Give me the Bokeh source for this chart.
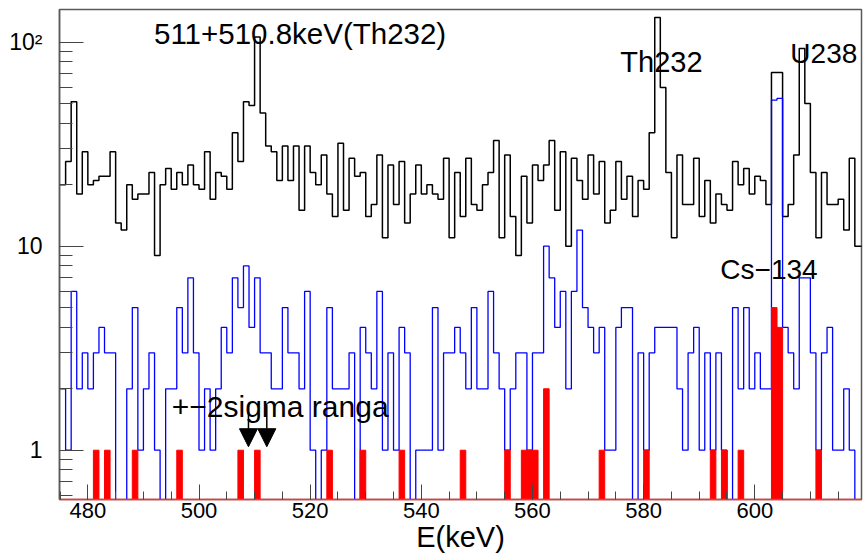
from bokeh.plotting import figure
from bokeh.embed import file_html
from bokeh.resources import INLINE
from bokeh.models import FixedTicker, Label, Arrow, NormalHead, ColumnDataSource
from bokeh.core.properties import value

# ---------------- data ----------------
bin_start = 475.0
bin_width = 1.0

black_counts = [
    20, 26, 51, 18, 29, 20, 21, 22, 22, 29,
    13, 12, 20, 17, 18, 18, 23, 9, 20, 24,
    19, 23, 20, 25, 20, 19, 29, 17, 23, 22,
    19, 36, 26, 51, 49, 106, 45, 31, 29, 21,
    31, 21, 31, 15, 31, 23, 20, 28, 18, 14,
    32, 15, 27, 22, 23, 14, 16, 28, 11, 25,
    16, 26, 13, 18, 25, 18, 20, 18, 17, 27,
    11, 23, 14, 27, 16, 15, 20, 23, 33, 11,
    28, 14, 9, 22, 13, 25, 21, 25, 33, 15,
    29, 10, 27, 21, 17, 28, 18, 26, 13, 15,
    26, 17, 22, 14, 21, 19, 36, 132, 60, 23,
    11, 28, 16, 16, 27, 14, 21, 13, 18, 16,
    15, 26, 20, 24, 18, 22, 21, 16, 71, 71,
    14, 16, 28, 93, 50, 23, 11, 23, 16, 16,
    17, 12, 27, 10, 10,
]

blue_counts = [
    2, 1, 6, 2, 3, 2, 3, 4, 3, 3,
    0, 0, 2, 5, 1, 2, 3, 1, 0, 2,
    2, 5, 3, 7, 3, 1, 2, 1, 2, 4,
    3, 7, 5, 8, 4, 7, 3, 3, 2, 2,
    5, 3, 3, 2, 6, 1, 0, 1, 5, 2,
    2, 2, 3, 0, 4, 3, 2, 6, 1, 3,
    1, 4, 3, 0, 1, 1, 1, 5, 1, 3,
    3, 4, 3, 2, 5, 2, 2, 6, 3, 2,
    1, 2, 3, 3, 1, 3, 3, 10, 7, 4,
    6, 2, 6, 12, 5, 4, 3, 4, 1, 1,
    4, 5, 5, 0, 3, 1, 3, 4, 4, 4,
    4, 2, 1, 3, 4, 1, 3, 1, 3, 1,
    0, 5, 2, 5, 2, 3, 2, 2, 52, 53,
    4, 3, 2, 7, 7, 3, 1, 3, 4, 1,
    1, 2, 1, 0, 0,
]

red_counts = [
    0, 0, 0, 0, 0, 0, 1, 0, 1, 0,
    0, 0, 0, 1, 0, 0, 0, 0, 0, 0,
    0, 1, 0, 0, 0, 0, 0, 0, 0, 0,
    0, 0, 1, 0, 0, 1, 0, 0, 0, 0,
    0, 0, 0, 0, 0, 0, 0, 0, 1, 0,
    0, 0, 0, 0, 1, 0, 0, 0, 0, 0,
    0, 1, 0, 0, 0, 0, 0, 0, 0, 0,
    0, 0, 1, 0, 0, 0, 0, 0, 0, 0,
    1, 0, 0, 1, 1, 1, 0, 2, 0, 0,
    0, 0, 0, 0, 0, 0, 0, 1, 0, 0,
    0, 0, 0, 0, 0, 1, 0, 0, 0, 0,
    0, 0, 0, 0, 0, 0, 0, 1, 0, 1,
    0, 0, 1, 0, 0, 0, 0, 0, 5, 4,
    0, 0, 0, 0, 0, 0, 1, 0, 0, 0,
    0, 0, 0, 0, 0,
]

xtick_values = [480, 500, 520, 540, 560, 580, 600]
xtick_labels = ["480", "500", "520", "540", "560", "580", "600"]
xminor_values = [475 + 5 * i for i in range(29)]
ytick_values = [1, 10, 100]
ytick_labels = ["1", "10", "10\u00b2"]
yminor_values = [0.6, 0.7, 0.8, 0.9, 2, 3, 4, 5, 6, 7, 8, 9,
                 20, 30, 40, 50, 60, 70, 80, 90]
x_title = "E(keV)"

annotations = [
    ("511+510.8keV(Th232)", 491.9, 110.0, "29.5px"),
    ("Th232", 575.8, 80.0, "29px"),
    ("U238", 606.4, 88.0, "28px"),
    ("Cs\u2212134", 593.8, 7.7, "28px"),
    ("+\u22122sigma ranga", 495.1, 1.63, "30px"),
]
arrow_x = [508.9, 512.2]
arrow_y_top = 1.66
arrow_y_tip = 1.04

FONT = "Liberation Sans"

# ---------------- figure ----------------
p = figure(width=864, height=557, x_range=(474.9, 619.2), y_range=(0.5733, 144.6),
           y_axis_type="log", output_backend="svg", toolbar_location=None,
           min_border_left=59, min_border_right=3, min_border_top=9, min_border_bottom=58)
p.background_fill_color = "white"
p.border_fill_color = "white"
p.grid.visible = False
p.outline_line_color = "#5a5a5a"
p.outline_line_width = 1.5

n = len(black_counts)
edges = [bin_start + bin_width * i for i in range(n + 1)]

def step_vals(vals):
    v = [c if c > 0 else 1e-3 for c in vals]
    return v + [v[-1]]

p.step(x=edges, y=step_vals(black_counts), mode="after", line_color="black", line_width=1.5)
p.step(x=edges, y=step_vals(blue_counts), mode="after", line_color="#0000ff", line_width=1.3)

rl, rr, rt = [], [], []
for i, c in enumerate(red_counts):
    if c > 0:
        rl.append(edges[i]); rr.append(edges[i + 1]); rt.append(c)
src = ColumnDataSource(dict(left=rl, right=rr, top=rt, bottom=[1e-3] * len(rt)))
p.quad(left="left", right="right", top="top", bottom="bottom", source=src,
       fill_color="#ff0000", line_color="#ff0000", line_width=1)

# axes
xa = p.xaxis[0]
xa.ticker = FixedTicker(ticks=xtick_values, minor_ticks=xminor_values)
xa.major_label_overrides = {v: l for v, l in zip(xtick_values, xtick_labels)}
xa.axis_line_color = "#ff3030"
xa.axis_line_width = 1.5
xa.major_tick_in = 15
xa.major_tick_out = 0
xa.minor_tick_in = 8
xa.minor_tick_out = 0
xa.major_tick_line_color = "#444444"
xa.minor_tick_line_color = "#444444"
xa.major_label_text_font = FONT
xa.major_label_text_font_size = "22px"
xa.major_label_text_color = "black"
xa.major_label_standoff = 3
xa.axis_label = x_title
xa.axis_label_text_font = FONT
xa.axis_label_text_font_size = "29px"
xa.axis_label_text_font_style = "normal"
xa.axis_label_text_color = "black"
xa.axis_label_standoff = 0

ya = p.yaxis[0]
ya.ticker = FixedTicker(ticks=ytick_values, minor_ticks=yminor_values)
ya.major_label_overrides = {v: l for v, l in zip(ytick_values, ytick_labels)}
ya.axis_line_color = "#5a5a5a"
ya.axis_line_width = 1.5
ya.major_tick_in = 24
ya.major_tick_out = 0
ya.minor_tick_in = 13
ya.minor_tick_out = 0
ya.major_tick_line_color = "#444444"
ya.minor_tick_line_color = "#444444"
ya.major_label_text_font = FONT
ya.major_label_text_font_size = "23px"
ya.major_label_text_color = "black"
ya.major_label_standoff = 17

# texts
for txt, x, y, fs in annotations:
    p.add_layout(Label(x=x, y=y, text=txt, text_font=FONT, text_font_size=fs,
                       text_color="black", text_align="left", text_baseline="alphabetic"))

for ax in arrow_x:
    p.add_layout(Arrow(end=NormalHead(size=18, fill_color="black", line_color="black"),
                       x_start=ax, y_start=arrow_y_top, x_end=ax, y_end=arrow_y_tip,
                       line_color="black", line_width=1.5))

open("out.html", "w").write(file_html(p, INLINE))
